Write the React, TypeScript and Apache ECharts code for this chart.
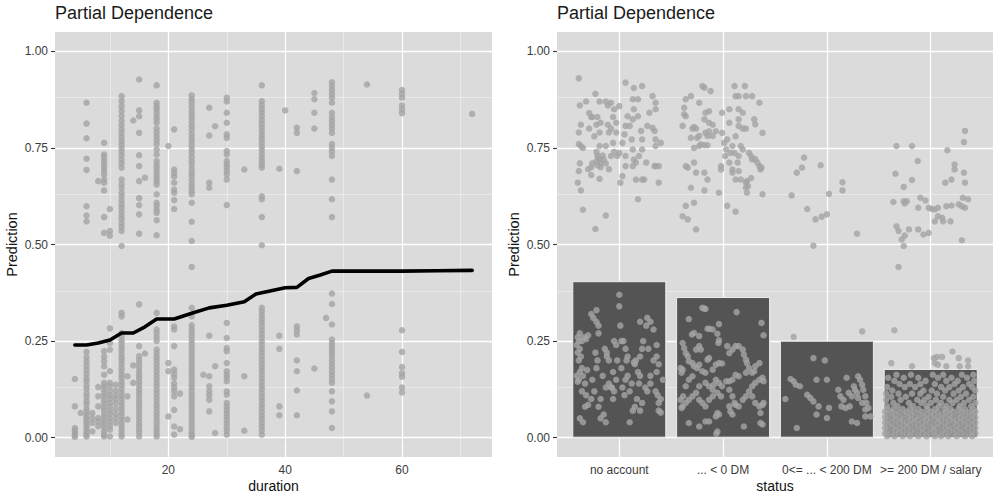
import React, { useEffect, useRef } from "react";
import * as echarts from "echarts";

// ---------- Left panel: duration ----------
const durationColumns: [number, number[]][] = [
  [4, [0.152, 0.081, 0.025, 0.019, 0.013, 0.007, 0.002]],
  [5, [0.064]],
  [6, [0.867, 0.813, 0.775, 0.722, 0.693, 0.599, 0.575, 0.56, 0.222, 0.208, 0.197, 0.186, 0.176, 0.165, 0.154, 0.146, 0.135, 0.126, 0.114, 0.105, 0.094, 0.086, 0.075, 0.066, 0.058, 0.051, 0.044, 0.037, 0.03, 0.023, 0.015, 0.008, 0.003]],
  [7, [0.064, 0.05, 0.038, 0.016]],
  [8, [0.664, 0.131, 0.107, 0.081, 0.051, 0.042, 0.03]],
  [9, [0.763, 0.733, 0.725, 0.716, 0.707, 0.699, 0.69, 0.681, 0.668, 0.66, 0.64, 0.571, 0.53, 0.224, 0.21, 0.198, 0.185, 0.163, 0.142, 0.133, 0.125, 0.115, 0.107, 0.097, 0.089, 0.079, 0.071, 0.061, 0.053, 0.043, 0.035, 0.026, 0.016, 0.008, 0.003]],
  [10, [0.592, 0.535, 0.523, 0.283, 0.245, 0.228, 0.172, 0.142, 0.133, 0.121, 0.11, 0.101, 0.09, 0.081, 0.07, 0.061, 0.05, 0.041, 0.03, 0.021, 0.003]],
  [11, [0.137, 0.122, 0.11, 0.1, 0.089, 0.075, 0.061, 0.05, 0.038]],
  [12, [0.884, 0.871, 0.858, 0.846, 0.833, 0.821, 0.81, 0.799, 0.789, 0.778, 0.768, 0.759, 0.749, 0.74, 0.731, 0.72, 0.71, 0.699, 0.668, 0.656, 0.646, 0.634, 0.625, 0.614, 0.604, 0.595, 0.585, 0.574, 0.566, 0.555, 0.545, 0.535, 0.496, 0.323, 0.314, 0.271, 0.262, 0.252, 0.244, 0.234, 0.226, 0.216, 0.207, 0.199, 0.19, 0.18, 0.171, 0.163, 0.154, 0.144, 0.136, 0.127, 0.117, 0.109, 0.1, 0.091, 0.082, 0.073, 0.064, 0.055, 0.046, 0.037, 0.028, 0.019, 0.01, 0.003]],
  [13, [0.159, 0.107, 0.047]],
  [14, [0.821, 0.187, 0.142]],
  [15, [0.927, 0.847, 0.832, 0.789, 0.731, 0.703, 0.664, 0.62, 0.602, 0.578, 0.528, 0.345, 0.237, 0.211, 0.201, 0.192, 0.182, 0.172, 0.163, 0.154, 0.144, 0.135, 0.125, 0.116, 0.107, 0.097, 0.088, 0.079, 0.069, 0.06, 0.051, 0.041, 0.032, 0.022, 0.013, 0.003]],
  [16, [0.673, 0.218]],
  [18, [0.912, 0.867, 0.858, 0.85, 0.841, 0.832, 0.824, 0.815, 0.8, 0.79, 0.78, 0.77, 0.76, 0.746, 0.733, 0.716, 0.707, 0.699, 0.69, 0.681, 0.673, 0.664, 0.655, 0.63, 0.608, 0.6, 0.59, 0.582, 0.563, 0.524, 0.323, 0.28, 0.27, 0.26, 0.25, 0.228, 0.219, 0.209, 0.2, 0.19, 0.181, 0.171, 0.161, 0.152, 0.142, 0.133, 0.123, 0.114, 0.104, 0.095, 0.085, 0.076, 0.066, 0.057, 0.047, 0.038, 0.028, 0.019, 0.01, 0.003]],
  [20, [0.755, 0.193, 0.172, 0.055]],
  [21, [0.798, 0.694, 0.685, 0.676, 0.66, 0.642, 0.634, 0.615, 0.592, 0.288, 0.28, 0.237, 0.176, 0.165, 0.155, 0.14, 0.13, 0.12, 0.107, 0.072, 0.029, 0.008]],
  [22, [0.114, 0.022]],
  [24, [0.886, 0.876, 0.867, 0.857, 0.846, 0.836, 0.827, 0.816, 0.806, 0.797, 0.786, 0.776, 0.767, 0.756, 0.746, 0.737, 0.726, 0.716, 0.707, 0.696, 0.686, 0.677, 0.666, 0.656, 0.647, 0.638, 0.63, 0.608, 0.559, 0.509, 0.442, 0.336, 0.314, 0.291, 0.281, 0.272, 0.262, 0.252, 0.243, 0.233, 0.224, 0.214, 0.205, 0.195, 0.186, 0.176, 0.167, 0.157, 0.148, 0.138, 0.129, 0.119, 0.11, 0.1, 0.091, 0.081, 0.072, 0.062, 0.053, 0.043, 0.034, 0.024, 0.015, 0.007, 0.002]],
  [26, [0.163]],
  [27, [0.854, 0.782, 0.66, 0.647, 0.264, 0.159, 0.133, 0.12, 0.11, 0.098, 0.068]],
  [28, [0.806, 0.185, 0.012]],
  [30, [0.88, 0.87, 0.841, 0.815, 0.785, 0.776, 0.742, 0.733, 0.716, 0.707, 0.699, 0.69, 0.681, 0.668, 0.602, 0.297, 0.258, 0.232, 0.224, 0.193, 0.172, 0.163, 0.155, 0.146, 0.12, 0.111, 0.09, 0.081, 0.072, 0.063, 0.054, 0.045, 0.036, 0.027, 0.018, 0.008]],
  [33, [0.694, 0.159, 0.018]],
  [36, [0.912, 0.871, 0.861, 0.851, 0.842, 0.832, 0.822, 0.812, 0.803, 0.793, 0.783, 0.774, 0.764, 0.754, 0.745, 0.735, 0.725, 0.716, 0.706, 0.699, 0.625, 0.617, 0.571, 0.498, 0.336, 0.327, 0.317, 0.307, 0.298, 0.288, 0.278, 0.269, 0.259, 0.249, 0.24, 0.23, 0.221, 0.211, 0.201, 0.192, 0.182, 0.173, 0.163, 0.153, 0.144, 0.134, 0.125, 0.115, 0.105, 0.096, 0.086, 0.077, 0.067, 0.057, 0.048, 0.038, 0.029, 0.019, 0.008]],
  [39, [0.696, 0.264, 0.23, 0.081, 0.058]],
  [40, [0.847]],
  [42, [0.802, 0.789, 0.69, 0.288, 0.278, 0.267, 0.2, 0.172, 0.122, 0.058]],
  [45, [0.892, 0.876, 0.841, 0.8, 0.179]],
  [47, [0.31]],
  [48, [0.92, 0.91, 0.9, 0.89, 0.88, 0.867, 0.841, 0.83, 0.82, 0.81, 0.8, 0.789, 0.76, 0.75, 0.74, 0.729, 0.668, 0.617, 0.571, 0.373, 0.346, 0.293, 0.254, 0.245, 0.237, 0.228, 0.219, 0.21, 0.2, 0.19, 0.181, 0.171, 0.162, 0.152, 0.142, 0.12, 0.094, 0.068, 0.025]],
  [54, [0.914, 0.109]],
  [60, [0.9, 0.89, 0.88, 0.86, 0.85, 0.84, 0.278, 0.222, 0.183, 0.167, 0.158, 0.13, 0.117]],
  [72, [0.838]],
];

const pdpDuration = [4, 6, 8, 10, 11, 12, 14, 16, 18, 21, 24, 27, 30, 33, 35, 36, 40, 42, 44, 46, 48, 54, 60, 66, 72];
const pdpPrediction = [0.24, 0.24, 0.245, 0.253, 0.262, 0.271, 0.271, 0.287, 0.307, 0.307, 0.322, 0.336, 0.343, 0.352, 0.372, 0.375, 0.388, 0.389, 0.412, 0.421, 0.431, 0.431, 0.431, 0.432, 0.433];

// ---------- Right panel: status ----------
const statusCategories = ["no account", "... < 0 DM", "0<= ... < 200 DM", ">= 200 DM / salary"];
const statusBarValues = [0.405, 0.364, 0.251, 0.178];

// [jitter offset within category, prediction]
const noAccountPoints: number[][] = [
  [-0.39, 0.93], [-0.38, 0.86], [-0.37, 0.81], [-0.39, 0.79], [-0.39, 0.76], [-0.37, 0.755], [-0.35, 0.75], [-0.38, 0.71], [-0.39, 0.69], [-0.4, 0.66], [-0.37, 0.64], [-0.35, 0.59], [-0.23, 0.54], [-0.13, 0.575],
  [-0.32, 0.87], [-0.27, 0.83], [-0.23, 0.89], [-0.19, 0.87], [-0.29, 0.84], [-0.26, 0.83], [-0.21, 0.83], [-0.18, 0.815], [-0.29, 0.8], [-0.22, 0.81], [-0.19, 0.79], [-0.24, 0.78], [-0.19, 0.755], [-0.22, 0.74],
  [-0.21, 0.73], [-0.19, 0.72], [-0.16, 0.73], [-0.26, 0.71], [-0.27, 0.7], [-0.3, 0.695], [-0.27, 0.68], [-0.19, 0.67], [-0.18, 0.7], [-0.13, 0.71], [-0.1, 0.695], [-0.13, 0.755], [-0.1, 0.79], [-0.11, 0.81],
  [-0.11, 0.86], [-0.13, 0.87], [-0.08, 0.867], [-0.05, 0.85], [-0.06, 0.83], [-0.03, 0.815], [-0.08, 0.8], [-0.03, 0.79], [-0.06, 0.763], [-0.05, 0.74], [-0.02, 0.729], [-0.08, 0.729], [0.0, 0.737], [0.0, 0.858],
  [0.01, 0.66], [0.03, 0.677], [0.06, 0.703], [0.06, 0.729], [0.03, 0.763], [0.05, 0.785], [0.06, 0.807], [0.08, 0.832], [0.06, 0.919], [0.12, 0.772], [0.13, 0.746], [0.14, 0.72], [0.16, 0.712], [0.1, 0.807],
  [0.13, 0.824], [0.14, 0.85], [0.13, 0.876], [0.14, 0.905], [0.18, 0.876], [0.22, 0.91], [0.18, 0.832], [0.21, 0.794], [0.22, 0.772], [0.22, 0.746], [0.26, 0.712], [0.22, 0.668], [0.18, 0.617], [0.16, 0.668],
  [0.19, 0.729], [0.27, 0.807], [0.32, 0.802], [0.34, 0.794], [0.35, 0.772], [0.35, 0.755], [0.35, 0.703], [0.38, 0.703], [0.32, 0.884], [0.35, 0.867], [0.35, 0.85], [0.34, 0.703], [0.29, 0.841], [0.38, 0.66],
  [0.4, 0.763], [0.24, 0.668], [0.13, 0.703], [-0.2, 0.725], [-0.22, 0.715], [-0.18, 0.71], [-0.21, 0.705], [-0.15, 0.72],
  [-0.38, 0.27], [-0.4, 0.26], [-0.39, 0.25], [-0.41, 0.24], [-0.38, 0.23], [-0.4, 0.22], [-0.37, 0.21], [-0.39, 0.2], [-0.36, 0.25], [-0.34, 0.26], [-0.3, 0.265], [-0.32, 0.255], [-0.36, 0.18], [-0.38, 0.17],
  [-0.41, 0.16], [-0.39, 0.15], [-0.4, 0.145], [-0.35, 0.16], [-0.33, 0.14], [-0.31, 0.175], [-0.36, 0.12], [-0.32, 0.11], [-0.38, 0.05], [-0.35, 0.04], [-0.33, 0.08], [-0.3, 0.085], [-0.27, 0.32], [-0.25, 0.31],
  [-0.22, 0.33], [-0.22, 0.3], [-0.2, 0.29], [-0.23, 0.22], [-0.21, 0.2], [-0.22, 0.18], [-0.26, 0.15], [-0.27, 0.1], [-0.24, 0.12], [-0.2, 0.08], [-0.18, 0.1], [-0.2, 0.27], [-0.14, 0.23], [-0.12, 0.22],
  [-0.1, 0.2], [-0.12, 0.21], [-0.16, 0.16], [-0.13, 0.13], [-0.18, 0.05], [-0.15, 0.06], [-0.13, 0.04], [-0.1, 0.14], [-0.08, 0.13], [-0.06, 0.17], [-0.07, 0.13], [-0.05, 0.25], [-0.03, 0.24], [-0.02, 0.2],
  [-0.03, 0.15], [-0.05, 0.12], [-0.06, 0.1], [0.0, 0.34], [0.0, 0.37], [0.01, 0.29], [0.02, 0.25], [0.02, 0.18], [0.03, 0.13], [0.05, 0.11], [0.04, 0.25], [0.06, 0.23], [0.07, 0.2], [0.08, 0.21],
  [0.08, 0.16], [0.06, 0.15], [0.1, 0.12], [0.1, 0.04], [0.13, 0.07], [0.15, 0.08], [0.12, 0.14], [0.14, 0.195], [0.16, 0.2], [0.18, 0.17], [0.2, 0.16], [0.19, 0.14], [0.2, 0.21], [0.22, 0.23],
  [0.23, 0.25], [0.2, 0.3], [0.26, 0.29], [0.27, 0.31], [0.3, 0.3], [0.28, 0.23], [0.25, 0.13], [0.27, 0.12], [0.3, 0.14], [0.3, 0.16], [0.22, 0.09], [0.2, 0.07], [0.17, 0.1], [0.33, 0.2],
  [0.33, 0.28], [0.36, 0.24], [0.36, 0.21], [0.38, 0.19], [0.36, 0.17], [0.35, 0.12], [0.37, 0.11], [0.38, 0.09], [0.4, 0.065], [0.38, 0.07], [0.42, 0.15], [0.4, 0.1], [0.15, 0.19],
];

const belowZeroPoints: number[][] = [
  [-0.39, 0.807], [-0.375, 0.854], [-0.36, 0.876], [-0.375, 0.837], [-0.36, 0.832], [-0.31, 0.884], [-0.2, 0.91], [-0.18, 0.906], [-0.12, 0.897], [-0.23, 0.867], [-0.295, 0.8], [-0.28, 0.804], [-0.26, 0.8],
  [-0.31, 0.776], [-0.25, 0.776], [-0.23, 0.781], [-0.215, 0.759], [-0.28, 0.75], [-0.23, 0.755], [-0.18, 0.757], [-0.15, 0.757], [-0.17, 0.789], [-0.15, 0.781], [-0.17, 0.841], [-0.135, 0.845], [-0.18, 0.824],
  [-0.135, 0.815], [-0.1, 0.81], [-0.07, 0.793], [-0.135, 0.793], [-0.1, 0.781], [-0.36, 0.703], [-0.34, 0.699], [-0.28, 0.712], [-0.26, 0.686], [-0.18, 0.686], [-0.15, 0.668], [-0.31, 0.647], [-0.18, 0.64],
  [-0.28, 0.608], [-0.36, 0.6], [-0.39, 0.573], [-0.34, 0.565], [-0.26, 0.539], [-0.04, 0.634], [-0.02, 0.703], [-0.02, 0.694], [-0.01, 0.841], [-0.01, 0.789], [0.01, 0.763], [0.03, 0.746], [0.02, 0.729],
  [0.04, 0.772], [0.06, 0.85], [0.06, 0.815], [0.06, 0.712], [0.07, 0.737], [0.09, 0.755], [0.09, 0.694], [0.11, 0.737], [0.12, 0.78], [0.11, 0.91], [0.12, 0.884], [0.15, 0.884], [0.21, 0.91], [0.22, 0.884],
  [0.28, 0.884], [0.15, 0.85], [0.19, 0.841], [0.15, 0.824], [0.15, 0.807], [0.19, 0.8], [0.22, 0.8], [0.17, 0.755], [0.19, 0.746], [0.15, 0.729], [0.14, 0.712], [0.15, 0.69], [0.09, 0.686], [0.12, 0.668],
  [0.17, 0.668], [0.22, 0.66], [0.23, 0.664], [0.24, 0.651], [0.23, 0.634], [0.22, 0.647], [0.27, 0.672], [0.25, 0.737], [0.27, 0.729], [0.28, 0.72], [0.31, 0.721], [0.33, 0.712], [0.35, 0.703], [0.37, 0.699],
  [0.36, 0.694], [0.35, 0.867], [0.3, 0.824], [0.31, 0.811], [0.38, 0.789], [0.38, 0.63], [0.04, 0.6], [0.12, 0.585],
  [-0.2, 0.336], [-0.18, 0.334], [-0.17, 0.333], [0.13, 0.325], [-0.33, 0.307], [-0.04, 0.294], [0.37, 0.297], [0.39, 0.265], [-0.3, 0.267], [-0.28, 0.271], [-0.23, 0.263], [-0.15, 0.282], [-0.13, 0.282],
  [-0.1, 0.28], [-0.055, 0.269], [-0.04, 0.252], [-0.045, 0.245], [0.04, 0.237], [-0.39, 0.245], [-0.375, 0.232], [-0.36, 0.219], [-0.34, 0.211], [-0.41, 0.18], [-0.39, 0.176], [-0.4, 0.168], [-0.33, 0.198],
  [-0.295, 0.193], [-0.28, 0.185], [-0.25, 0.18], [-0.23, 0.189], [-0.26, 0.228], [-0.23, 0.237], [-0.215, 0.228], [-0.2, 0.172], [-0.17, 0.168], [-0.15, 0.202], [-0.135, 0.206], [-0.1, 0.176], [-0.07, 0.189],
  [-0.04, 0.193], [-0.01, 0.192], [0.06, 0.219], [0.09, 0.228], [0.12, 0.237], [0.15, 0.237], [0.19, 0.228], [0.2, 0.215], [0.22, 0.202], [0.23, 0.193], [0.25, 0.18], [0.22, 0.168], [0.15, 0.159],
  [0.12, 0.163], [0.09, 0.15], [0.06, 0.146], [0.03, 0.146], [-0.01, 0.133], [-0.04, 0.142], [-0.07, 0.15], [-0.09, 0.137], [-0.1, 0.124], [-0.135, 0.133], [-0.17, 0.142], [-0.23, 0.133], [-0.26, 0.116],
  [-0.295, 0.107], [-0.33, 0.098], [-0.36, 0.09], [-0.39, 0.081], [-0.36, 0.133], [-0.33, 0.15], [-0.295, 0.159], [-0.23, 0.098], [-0.2, 0.09], [-0.17, 0.081], [-0.135, 0.098], [-0.1, 0.107], [-0.055, 0.116],
  [-0.02, 0.107], [0.06, 0.124], [0.09, 0.107], [0.11, 0.09], [0.12, 0.085], [0.15, 0.081], [0.19, 0.098], [0.22, 0.107], [0.25, 0.12], [0.28, 0.133], [0.31, 0.142], [0.35, 0.15], [0.38, 0.155],
  [0.39, 0.146], [0.28, 0.107], [0.31, 0.09], [0.35, 0.081], [0.38, 0.085], [0.39, 0.09], [0.28, 0.168], [0.3, 0.172], [0.31, 0.185], [0.35, 0.193], [-0.07, 0.055], [-0.055, 0.064], [-0.04, 0.06],
  [-0.17, 0.042], [-0.135, 0.042], [-0.33, 0.038], [-0.23, 0.029], [-0.055, 0.016], [-0.065, 0.01], [0.2, 0.029], [0.36, 0.064], [0.36, 0.038], [0.38, 0.034], [0.06, 0.081], [0.07, 0.068], [0.09, 0.06],
  [-0.41, 0.098], [-0.385, 0.107], [-0.4, 0.077],
];

const midBalancePoints: number[][] = [
  [-0.34, 0.627], [-0.29, 0.686], [-0.24, 0.699], [-0.22, 0.725], [-0.06, 0.705], [0.02, 0.631], [-0.19, 0.592], [-0.11, 0.565], [-0.05, 0.572], [0.0, 0.578], [-0.13, 0.497], [0.15, 0.661], [0.15, 0.64], [0.29, 0.528],
  [-0.32, 0.261], [0.34, 0.275], [-0.13, 0.206], [-0.02, 0.2], [-0.1, 0.15], [0.0, 0.15], [-0.35, 0.152], [-0.32, 0.146], [-0.3, 0.137], [-0.26, 0.133], [-0.4, 0.1], [-0.29, 0.025], [-0.19, 0.111],
  [-0.16, 0.103], [-0.13, 0.094], [-0.1, 0.06], [-0.08, 0.081], [0.0, 0.051], [0.02, 0.077], [0.11, 0.124], [0.13, 0.107], [0.16, 0.098], [0.14, 0.081], [0.18, 0.077], [0.21, 0.116], [0.24, 0.107],
  [0.22, 0.081], [0.19, 0.155], [0.26, 0.133], [0.27, 0.124], [0.29, 0.116], [0.3, 0.103], [0.34, 0.09], [0.37, 0.073], [0.37, 0.055], [0.24, 0.042], [0.29, 0.038], [0.3, 0.159], [0.32, 0.15], [0.34, 0.137],
  [0.35, 0.124], [0.37, 0.107], [0.38, 0.09], [0.4, 0.077], [0.42, 0.055],
];

const salaryPoints: number[][] = [
  [-0.33, 0.755], [-0.18, 0.755], [-0.125, 0.716], [-0.34, 0.683], [-0.26, 0.649], [-0.18, 0.667], [-0.36, 0.61], [-0.26, 0.612], [-0.25, 0.606], [-0.23, 0.612], [-0.1, 0.621], [-0.05, 0.614], [-0.12, 0.595],
  [-0.02, 0.595], [0.01, 0.592], [0.04, 0.591], [0.07, 0.595], [0.15, 0.599], [0.2, 0.601], [0.27, 0.604], [0.31, 0.621], [0.36, 0.617], [0.33, 0.595], [0.3, 0.599], [0.16, 0.744], [0.33, 0.794], [0.32, 0.765],
  [0.14, 0.66], [0.2, 0.668], [0.23, 0.694], [0.23, 0.707], [0.32, 0.686], [0.33, 0.66], [0.04, 0.56], [0.07, 0.573], [0.11, 0.569], [0.12, 0.56], [0.19, 0.56], [-0.33, 0.547], [-0.31, 0.535], [-0.25, 0.523],
  [-0.28, 0.513], [-0.21, 0.539], [-0.12, 0.539], [-0.07, 0.526], [-0.02, 0.53], [-0.26, 0.496], [0.3, 0.511],
  [-0.31, 0.442], [-0.35, 0.278], [-0.38, 0.193], [-0.18, 0.185], [0.03, 0.206], [0.06, 0.209], [0.11, 0.209], [0.21, 0.223], [0.27, 0.206], [0.36, 0.2], [0.36, 0.185], [0.04, 0.193], [0.07, 0.189],
  [0.15, 0.185], [0.28, 0.185],
];

// dense lower block of ">= 200 DM / salary": [prediction, jitter offsets]
const salaryDenseRows: [number, number[]][] = [
  [0.163, [-0.33, -0.19, 0.02, 0.12, 0.3, 0.41]],
  [0.155, [-0.41, -0.26, -0.12, 0.07, 0.2, 0.35]],
  [0.147, [-0.35, -0.05, 0.15, 0.26, 0.42]],
  [0.139, [-0.3, -0.2, -0.1, 0.04, 0.23, 0.37]],
  [0.131, [-0.42, -0.25, -0.15, 0.1, 0.18, 0.31, 0.4]],
  [0.122, [-0.37, -0.07, 0.01, 0.14, 0.27, 0.43]],
  [0.114, [-0.43, -0.31, -0.18, -0.1, 0.06, 0.22, 0.34]],
  [0.106, [-0.38, -0.24, -0.02, 0.12, 0.29, 0.41]],
  [0.098, [-0.43, -0.29, -0.13, -0.06, 0.05, 0.18, 0.25, 0.37]],
  [0.09, [-0.36, -0.21, -0.09, 0.0, 0.1, 0.21, 0.32, 0.43]],
  [0.082, [-0.42, -0.32, -0.17, -0.04, 0.08, 0.15, 0.28, 0.39]],
  [0.074, [-0.42, -0.36, -0.27, -0.2, -0.12, -0.03, 0.04, 0.13, 0.19, 0.27, 0.33, 0.41]],
  [0.067, [-0.44, -0.38, -0.31, -0.23, -0.16, -0.08, 0.0, 0.07, 0.15, 0.22, 0.3, 0.37, 0.43]],
  [0.06, [-0.41, -0.34, -0.26, -0.19, -0.11, -0.04, 0.03, 0.11, 0.18, 0.26, 0.33, 0.4]],
  [0.053, [-0.44, -0.37, -0.3, -0.22, -0.15, -0.07, 0.0, 0.07, 0.14, 0.21, 0.29, 0.36, 0.43]],
  [0.046, [-0.42, -0.34, -0.27, -0.19, -0.12, -0.04, 0.04, 0.1, 0.18, 0.25, 0.32, 0.4]],
  [0.039, [-0.44, -0.38, -0.3, -0.23, -0.16, -0.08, -0.01, 0.07, 0.14, 0.22, 0.29, 0.36, 0.43]],
  [0.032, [-0.41, -0.34, -0.26, -0.2, -0.12, -0.05, 0.03, 0.1, 0.17, 0.25, 0.33, 0.4]],
  [0.025, [-0.44, -0.37, -0.3, -0.23, -0.15, -0.08, 0.0, 0.06, 0.14, 0.21, 0.28, 0.36, 0.43]],
  [0.018, [-0.42, -0.34, -0.27, -0.19, -0.11, -0.04, 0.03, 0.11, 0.18, 0.25, 0.32, 0.4]],
  [0.011, [-0.44, -0.38, -0.31, -0.23, -0.16, -0.08, 0.0, 0.07, 0.14, 0.22, 0.29, 0.37, 0.43]],
  [0.004, [-0.42, -0.35, -0.27, -0.2, -0.12, -0.04, 0.04, 0.1, 0.17, 0.25, 0.33, 0.4]],
];

const yTicks = [0, 0.25, 0.5, 0.75, 1];
const yMinor = [0.125, 0.375, 0.625, 0.875];
const durationTicks = [20, 40, 60];
const durationMinor = [10, 30, 50, 70];
const statusTicks = [1, 2, 3, 4];

export default function App() {
  const ref = useRef<HTMLDivElement>(null);

  useEffect(() => {
    if (!ref.current) return;
    const chart = echarts.init(ref.current, undefined, { renderer: "svg" });

    const font = "'Liberation Sans', Arial, sans-serif";
    const pointColor = "#A4A4A4";
    const panelBg = "#DBDBDB";
    const labelColor = "#3C3C3C";

    const durationData: number[][] = [];
    durationColumns.forEach(([d, vals]) => vals.forEach((v) => durationData.push([d, v])));

    const statusData: number[][] = [];
    [noAccountPoints, belowZeroPoints, midBalancePoints].forEach((pts, i) =>
      pts.forEach(([o, v]) => statusData.push([i + 1 + o, v]))
    );
    salaryPoints.forEach(([o, v]) => statusData.push([4 + o, v]));
    salaryDenseRows.forEach(([v, offs]) => offs.forEach((o) => statusData.push([4 + o, v])));

    const gridLines = (xMajor: number[], xMinor: number[]) => ({
      silent: true,
      symbol: "none",
      z: 1,
      animation: false,
      label: { show: false },
      emphasis: { disabled: true },
      data: [
        ...xMinor.map((x) => ({ xAxis: x, lineStyle: { color: "#F4F4F4", width: 0.6, type: "solid" } })),
        ...yMinor.map((y) => ({ yAxis: y, lineStyle: { color: "#F4F4F4", width: 0.6, type: "solid" } })),
        ...xMajor.map((x) => ({ xAxis: x, lineStyle: { color: "#FFFFFF", width: 1.3, type: "solid" } })),
        ...yTicks.map((y) => ({ yAxis: y, lineStyle: { color: "#FFFFFF", width: 1.3, type: "solid" } })),
      ],
    });

    const nameStyle = { fontSize: 14, lineHeight: 15, color: "#111", fontFamily: font };

    const yAxisBase = (gridIndex: number) => ({
      type: "value",
      gridIndex,
      min: -0.05,
      max: 1.05,
      axisLine: { show: false },
      splitLine: { show: false },
      axisTick: { show: true, length: 4, customValues: yTicks, lineStyle: { color: "#333333", width: 1.1 } },
      axisLabel: {
        customValues: yTicks,
        formatter: (v: number) => v.toFixed(2),
        fontSize: 12,
        color: labelColor,
        margin: 7,
        fontFamily: font,
      },
      name: "Prediction",
      nameLocation: "middle",
      nameGap: 36,
      nameMoveOverlap: false,
      nameTextStyle: { ...nameStyle, fontSize: 14.5 },
    });

    const option = {
      animation: false,
      textStyle: { fontFamily: font },
      title: [
        { text: "Partial Dependence", left: 55, top: 4, padding: 0, textStyle: { fontSize: 18, fontWeight: "normal", color: "#1A1A1A", fontFamily: font } },
        { text: "Partial Dependence", left: 557, top: 4, padding: 0, textStyle: { fontSize: 18, fontWeight: "normal", color: "#1A1A1A", fontFamily: font } },
      ],
      grid: [
        { left: 55, top: 32, width: 437, height: 425, show: true, backgroundColor: panelBg, borderWidth: 0, containLabel: false, outerBoundsMode: "none" },
        { left: 557, top: 32, width: 436, height: 425, show: true, backgroundColor: panelBg, borderWidth: 0, containLabel: false, outerBoundsMode: "none" },
      ],
      xAxis: [
        {
          type: "value",
          gridIndex: 0,
          min: 0.6,
          max: 75.4,
          axisLine: { show: false },
          splitLine: { show: false },
          axisTick: { show: true, length: 4, customValues: durationTicks, lineStyle: { color: "#333333", width: 1.1 } },
          axisLabel: { customValues: durationTicks, fontSize: 12, color: labelColor, margin: 7, fontFamily: font },
          name: "duration",
          nameLocation: "middle",
          nameGap: 21,
          nameMoveOverlap: false,
          nameTextStyle: { ...nameStyle, verticalAlign: "top" },
        },
        {
          type: "value",
          gridIndex: 1,
          min: 0.4,
          max: 4.6,
          axisLine: { show: false },
          splitLine: { show: false },
          axisTick: { show: true, length: 4, customValues: statusTicks, lineStyle: { color: "#333333", width: 1.1 } },
          axisLabel: {
            customValues: statusTicks,
            formatter: (v: number) => statusCategories[Math.round(v) - 1] ?? "",
            fontSize: 12,
            color: labelColor,
            margin: 7,
            fontFamily: font,
          },
          name: "status",
          nameLocation: "middle",
          nameGap: 21,
          nameMoveOverlap: false,
          nameTextStyle: { ...nameStyle, verticalAlign: "top" },
        },
      ],
      yAxis: [yAxisBase(0), yAxisBase(1)],
      series: [
        {
          type: "scatter",
          xAxisIndex: 0,
          yAxisIndex: 0,
          data: durationData,
          symbol: "circle",
          symbolSize: 6.5,
          itemStyle: { color: pointColor },
          z: 3,
          silent: true,
          markLine: gridLines(durationTicks, durationMinor),
        },
        {
          type: "line",
          xAxisIndex: 0,
          yAxisIndex: 0,
          data: pdpDuration.map((d, i) => [d, pdpPrediction[i]]),
          showSymbol: false,
          symbol: "none",
          lineStyle: { color: "#000000", width: 3.6, cap: "round", join: "round" },
          z: 4,
          silent: true,
        },
        {
          type: "bar",
          xAxisIndex: 1,
          yAxisIndex: 1,
          data: statusBarValues.map((v, i) => [i + 1, v]),
          barWidth: 94,
          itemStyle: { color: "#545454", borderColor: "#EDEDED", borderWidth: 1 },
          z: 2,
          silent: true,
        },
        {
          type: "scatter",
          xAxisIndex: 1,
          yAxisIndex: 1,
          data: statusData,
          symbol: "circle",
          symbolSize: 6.5,
          itemStyle: { color: pointColor },
          z: 3,
          silent: true,
          markLine: gridLines(statusTicks, []),
        },
      ],
    };

    chart.setOption(option as any);
    return () => chart.dispose();
  }, []);

  return <div ref={ref} style={{ position: "absolute", left: 0, top: 0, width: 993, height: 494 }} />;
}
